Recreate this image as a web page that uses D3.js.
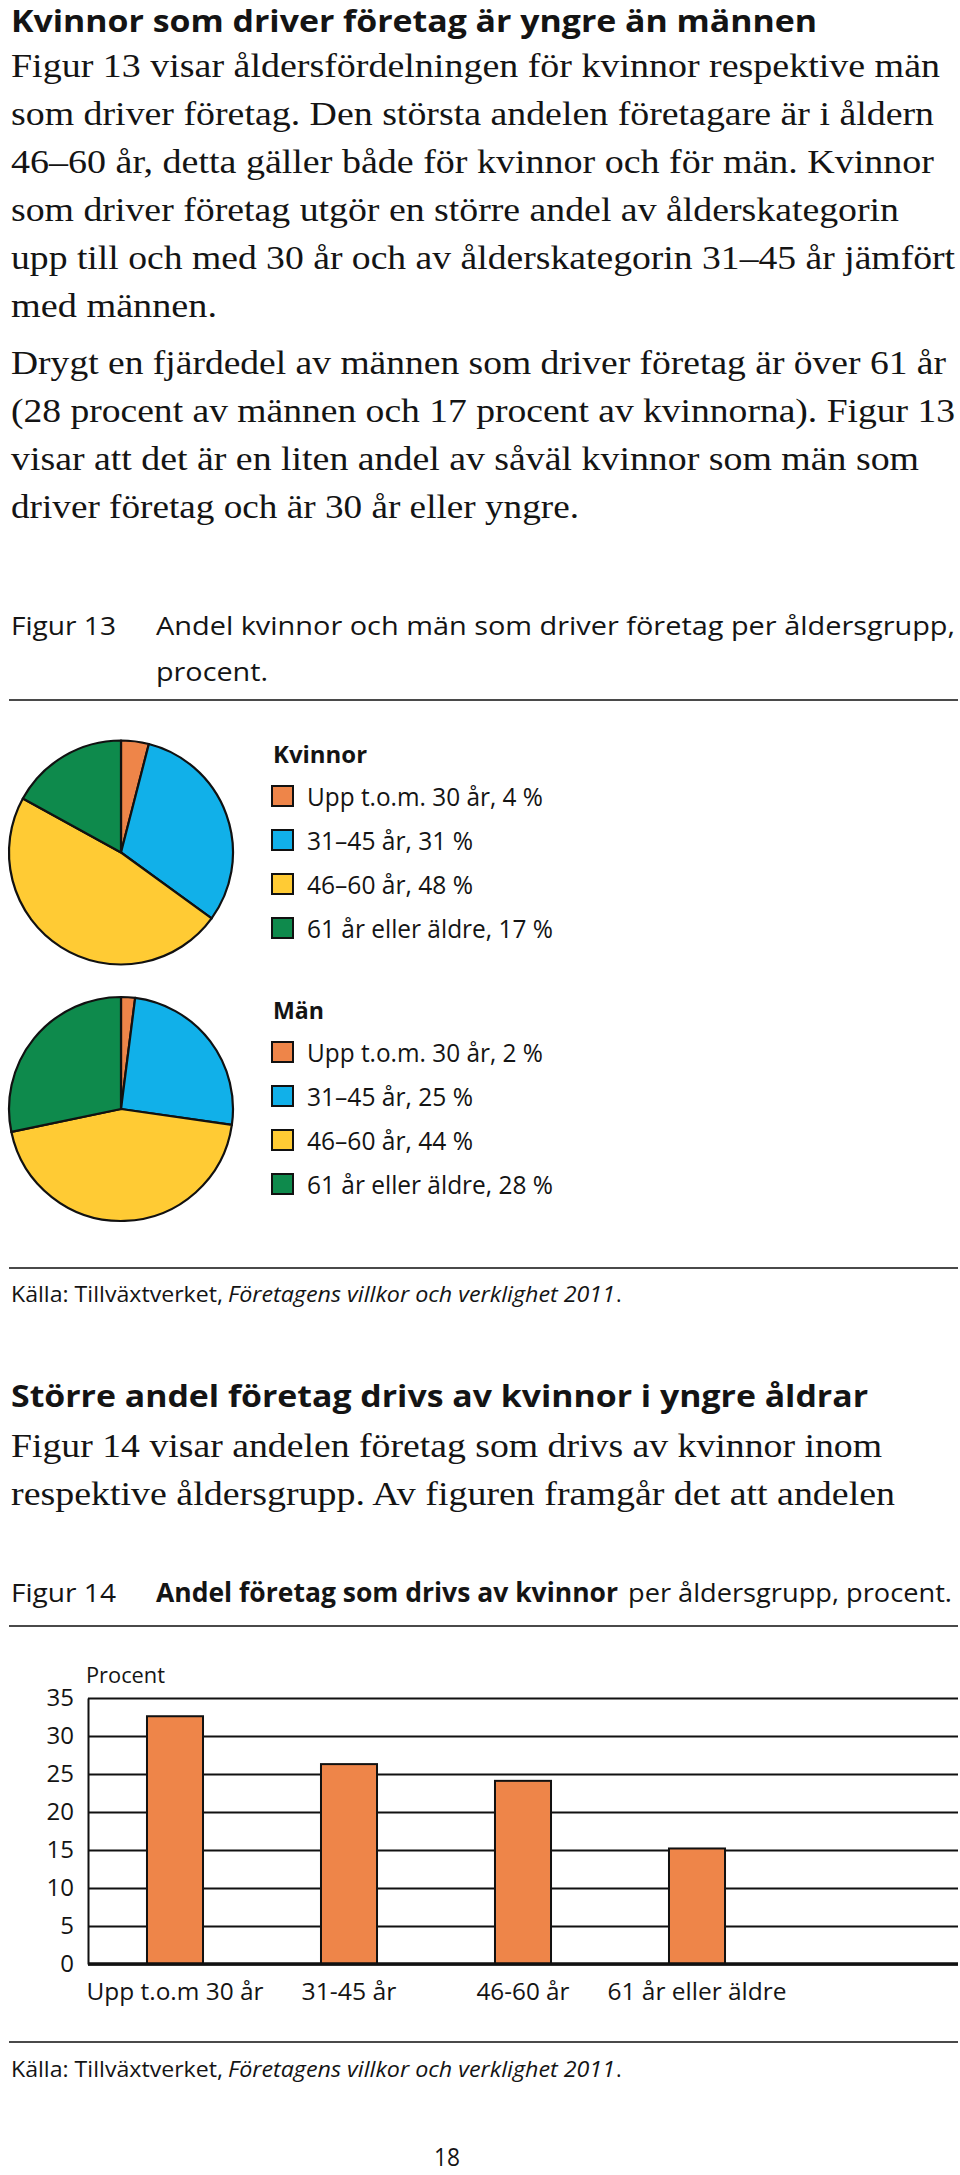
<!DOCTYPE html>
<html><head><meta charset="utf-8">
<script src="https://cdn.jsdelivr.net/npm/d3@7"></script>
<style>html,body{margin:0;padding:0;background:#fff;} svg{display:block}</style>
</head><body>
<svg id="page" width="960" height="2175"></svg>
<script>
// ---------------- data ----------------
const ageGroups = ["Upp t.o.m. 30 år", "31–45 år", "46–60 år", "61 år eller äldre"];
const womenShare = [4, 31, 48, 17];
const menShare = [2, 25, 44, 28];
const sliceColors = ["#EE8549", "#11B0E9", "#FFCB34", "#0E8A4C"];

const barCategories = ["Upp t.o.m 30 år", "31-45 år", "46-60 år", "61 år eller äldre"];
const barValues = [32.6, 26.3, 24.1, 15.2];
const yTickValues = [0, 5, 10, 15, 20, 25, 30, 35];
const barColor = "#EE8549";

// ---------------- texts ----------------
const heading1 = "Kvinnor som driver företag är yngre än männen";
const para1 = [
  "Figur 13 visar åldersfördelningen för kvinnor respektive män",
  "som driver företag. Den största andelen företagare är i åldern",
  "46–60 år, detta gäller både för kvinnor och för män. Kvinnor",
  "som driver företag utgör en större andel av ålderskategorin",
  "upp till och med 30 år och av ålderskategorin 31–45 år jämfört",
  "med männen."
];
const para2 = [
  "Drygt en fjärdedel av männen som driver företag är över 61 år",
  "(28 procent av männen och 17 procent av kvinnorna). Figur 13",
  "visar att det är en liten andel av såväl kvinnor som män som",
  "driver företag och är 30 år eller yngre."
];
const heading2 = "Större andel företag drivs av kvinnor i yngre åldrar";
const para3 = [
  "Figur 14 visar andelen företag som drivs av kvinnor inom",
  "respektive åldersgrupp. Av figuren framgår det att andelen"
];

// ---------------- layout ----------------
const SANS = "'Open Sans', 'Noto Sans', sans-serif";
const SERIF = "'Liberation Serif', 'Times New Roman', serif";
const INK = "#141414";
const svg = d3.select("#page");

function addText(x, y, s, o = {}) {
  const t = svg.append("text")
    .attr("x", x).attr("y", y).text(s)
    .attr("font-family", o.family || SANS)
    .attr("font-size", o.size || 24)
    .attr("font-weight", o.weight || 400)
    .attr("font-style", o.style || "normal")
    .attr("text-anchor", o.anchor || "start")
    .attr("fill", INK);
  if (o.w) t.attr("textLength", o.w).attr("lengthAdjust", "spacingAndGlyphs");
  return t;
}
function rule(y) {
  svg.append("line").attr("x1", 9).attr("x2", 958).attr("y1", y).attr("y2", y)
    .attr("stroke", "#4a4a4a").attr("stroke-width", 2);
}

const BODY = 33;
// headings and paragraphs
addText(11, 32, heading1, {size: 30, weight: 700, w: 806});
const para1Ends = [940, 934, 934, 899, 955, 217];
para1.forEach((s, i) => addText(11, 77 + 48 * i, s, {family: SERIF, size: BODY, w: para1Ends[i] - 11}));
const para2Ends = [946, 955, 919, 579];
para2.forEach((s, i) => addText(11, 374 + 48 * i, s, {family: SERIF, size: BODY, w: para2Ends[i] - 11}));

addText(11, 635, "Figur 13", {size: 26, w: 105});
addText(156, 635, "Andel kvinnor och män som driver företag per åldersgrupp,", {size: 26, w: 799});
addText(156, 681, "procent.", {size: 26, w: 112});
rule(700);

// ---------------- pies ----------------
const pie = d3.pie().sort(null).value(d => d);
const arc = d3.arc().innerRadius(0).outerRadius(112);

function drawPie(cx, cy, values, title, titleY, titleW) {
  const g = svg.append("g").attr("transform", `translate(${cx},${cy})`);
  g.selectAll("path").data(pie(values)).join("path")
    .attr("d", arc)
    .attr("fill", (d, i) => sliceColors[i])
    .attr("stroke", "#111").attr("stroke-width", 2.2).attr("stroke-linejoin", "round");
  addText(273, titleY, title, {size: 24, weight: 700, w: titleW});
  values.forEach((v, i) => {
    const top = titleY + 23 + 44 * i;
    svg.append("rect").attr("x", 272).attr("y", top).attr("width", 21).attr("height", 20)
      .attr("fill", sliceColors[i]).attr("stroke", "#111").attr("stroke-width", 2);
    const label = `${ageGroups[i]}, ${v} %`;
    const w = [236, 166, 166, 246][i];
    addText(307, top + 20, label, {size: 25, w: w});
  });
}
drawPie(121, 852.5, womenShare, "Kvinnor", 763, 94);
drawPie(121, 1109, menShare, "Män", 1019, 51);

rule(1268);
addText(11, 1302, "Källa: Tillväxtverket,", {size: 21, w: 212});
addText(228, 1302, "Företagens villkor och verklighet 2011", {size: 21, style: "italic", w: 387});
addText(616, 1302, ".", {size: 21});

addText(11, 1407, heading2, {size: 30, weight: 700, w: 857});
const para3Ends = [882, 895];
para3.forEach((s, i) => addText(11, 1457 + 48 * i, s, {family: SERIF, size: BODY, w: para3Ends[i] - 11}));

addText(11, 1602, "Figur 14", {size: 26, w: 105});
addText(156, 1602, "Andel företag som drivs av kvinnor", {size: 26, weight: 700, w: 462});
addText(628, 1602, "per åldersgrupp, procent.", {size: 26, w: 324});
rule(1626);

// ---------------- bar chart ----------------
const axisX = 88, plotRight = 958;
const y = d3.scaleLinear().domain([0, 35]).range([1964, 1698]);
const x = d3.scaleBand().domain(barCategories).range([axisX, axisX + 4 * 174])
  .paddingInner(0.678).paddingOuter(0.339);

addText(86, 1683, "Procent", {size: 21, w: 79});

const yAxis = svg.append("g").attr("transform", `translate(${axisX},0)`)
  .call(d3.axisLeft(y).tickValues(yTickValues).tickSize(-(plotRight - axisX)).tickSizeOuter(0).tickPadding(14));
yAxis.select(".domain").attr("stroke", "#111").attr("stroke-width", 2);
yAxis.selectAll(".tick line").attr("stroke", "#111").attr("stroke-width", 1.8);
yAxis.selectAll(".tick text").attr("font-family", SANS).attr("font-size", 24).attr("fill", INK);

svg.append("g").selectAll("rect").data(barValues).join("rect")
  .attr("x", (d, i) => x(barCategories[i]))
  .attr("y", d => y(d))
  .attr("width", x.bandwidth())
  .attr("height", d => y(0) - y(d))
  .attr("fill", barColor)
  .attr("stroke", "#111").attr("stroke-width", 2);

svg.append("line").attr("x1", axisX).attr("x2", plotRight).attr("y1", y(0)).attr("y2", y(0))
  .attr("stroke", "#111").attr("stroke-width", 3.5);

const xAxis = svg.append("g").attr("transform", `translate(0,${y(0)})`)
  .call(d3.axisBottom(x).tickSize(0));
xAxis.select(".domain").remove();
const xLabelW = [177, 95, 93, 179];
xAxis.selectAll(".tick text")
  .attr("y", 36).attr("dy", 0)
  .attr("font-family", SANS).attr("font-size", 23).attr("fill", INK)
  .attr("textLength", (d, i) => xLabelW[i]).attr("lengthAdjust", "spacingAndGlyphs");

rule(2042);
addText(11, 2077, "Källa: Tillväxtverket,", {size: 21, w: 212});
addText(228, 2077, "Företagens villkor och verklighet 2011", {size: 21, style: "italic", w: 387});
addText(616, 2077, ".", {size: 21});

addText(447, 2166, "18", {size: 26, anchor: "middle", w: 26});
</script>
</body></html>
